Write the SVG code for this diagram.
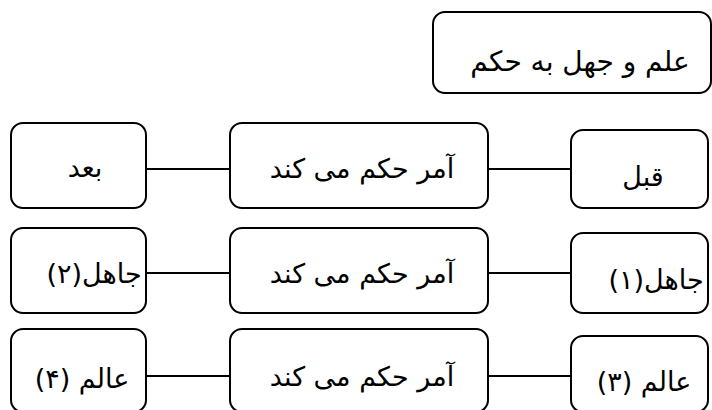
<svg xmlns="http://www.w3.org/2000/svg" width="712" height="410" viewBox="0 0 712 410">
  <style>
    .box { fill: #ffffff; stroke: #000000; stroke-width: 2; }
    .link { stroke: #000000; stroke-width: 2; fill: none; }
    .lbl { font-family: "DejaVu Sans", "Liberation Serif", serif; font-size: 27px; fill: #000000; text-anchor: middle; direction: rtl; unicode-bidi: embed; }
    .big { font-size: 28px; }
  </style>
  <rect width="712" height="410" fill="#ffffff"/>

  <!-- connectors -->
  <g id="connectors">
    <line class="link" x1="146" y1="169" x2="230" y2="169"/>
    <line class="link" x1="488" y1="169" x2="571" y2="169"/>
    <line class="link" x1="146" y1="273" x2="230" y2="273"/>
    <line class="link" x1="488" y1="273" x2="571" y2="273"/>
    <line class="link" x1="146" y1="376" x2="230" y2="376"/>
    <line class="link" x1="488" y1="376" x2="571" y2="376"/>
  </g>

  <g id="title">
    <rect class="box" x="433" y="12" width="278" height="81" rx="12"/>
    <text class="lbl big" x="580" y="71" direction="rtl">علم و جهل به حکم</text>
  </g>

  <!-- row 1 -->
  <g id="after">
    <rect class="box" x="11" y="123" width="135" height="85" rx="12"/>
    <text class="lbl" x="85" y="177" direction="rtl">بعد</text>
  </g>
  <g id="command1">
    <rect class="box" x="230" y="123" width="258" height="85" rx="12"/>
    <text class="lbl" x="362" y="178" direction="rtl">آمر حکم می کند</text>
  </g>
  <g id="before">
    <rect class="box" x="571" y="130" width="137" height="78" rx="12"/>
    <text class="lbl" x="643" y="186" direction="rtl">قبل</text>
  </g>

  <!-- row 2 -->
  <g id="ignorant2">
    <rect class="box" x="11" y="228" width="135" height="85" rx="12"/>
    <text class="lbl" x="94" y="283" direction="rtl">جاهل(۲)</text>
  </g>
  <g id="command2">
    <rect class="box" x="230" y="228" width="258" height="85" rx="12"/>
    <text class="lbl" x="362" y="283" direction="rtl">آمر حکم می کند</text>
  </g>
  <g id="ignorant1">
    <rect class="box" x="571" y="233" width="137" height="80" rx="12"/>
    <text class="lbl" x="656" y="289" direction="rtl">جاهل(۱)</text>
  </g>

  <!-- row 3 -->
  <g id="knower4">
    <rect class="box" x="11" y="329" width="135" height="83" rx="12"/>
    <text class="lbl" x="82" y="388" direction="rtl">عالم (۴)</text>
  </g>
  <g id="command3">
    <rect class="box" x="230" y="329" width="258" height="83" rx="12"/>
    <text class="lbl" x="362" y="386" direction="rtl">آمر حکم می کند</text>
  </g>
  <g id="knower3">
    <rect class="box" x="571" y="336" width="137" height="76" rx="12"/>
    <text class="lbl" x="644" y="391" direction="rtl">عالم (۳)</text>
  </g>
</svg>
